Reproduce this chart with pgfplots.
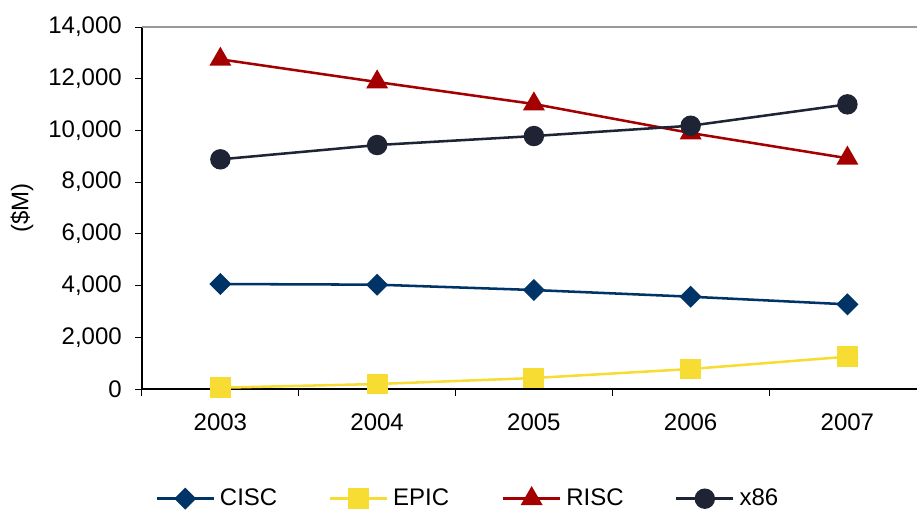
\documentclass[border=0pt]{standalone}
\usepackage{fontspec}
\setmainfont{Liberation Sans}
\usepackage{pgfplots}
\pgfplotsset{compat=1.18}
\definecolor{cisc}{RGB}{0,51,102}
\definecolor{epic}{RGB}{247,220,52}
\definecolor{risc}{RGB}{165,0,0}
\definecolor{xes}{RGB}{30,36,52}
\newcommand{\legbox}[1]{\makebox[81.5pt][l]{#1}}
\begin{document}
\fontsize{18}{22}\selectfont
\begin{tikzpicture}
\useasboundingbox (-106.5pt,-92.25pt) rectangle (581.25pt,291.75pt);
\begin{axis}[
  at={(0,0)}, anchor=south west, scale only axis,
  width=581.25pt, height=271.5pt,
  xmin=-0.5, xmax=4.444, ymin=0, ymax=14000,
  clip=false,
  axis x line*=bottom, axis y line*=left,
  axis line style={black, line width=1pt, -},
  tick align=outside, major tick length=5.25pt,
  tick style={black, line width=0.75pt},
  ytick={0,2000,...,14000},
  scaled y ticks=false,
  /pgf/number format/1000 sep={,},
  /pgf/number format/assume math mode=true,
  yticklabel style={inner sep=0pt, xshift=-9.75pt},
  xtick={-0.5,0.5,1.5,2.5,3.5}, xticklabels={},
  extra x ticks={0,1,2,3,4},
  extra x tick labels={2003,2004,2005,2006,2007},
  extra x tick style={major tick length=0pt, xticklabel style={inner sep=0pt, yshift=-18pt}},
  ylabel={(\$M)},
  ylabel style={at={(axis description cs:-0.155,0.5)}, anchor=center},
  legend columns=4,
  legend style={at={(axis description cs:0.017,-0.303)}, anchor=west, draw=none, fill=none,
    inner sep=0pt, nodes={inner sep=0pt},
    /tikz/every odd column/.append style={column sep=3.75pt},
    /tikz/every even column/.append style={column sep=0pt}},
  legend image code/.code={\draw[mark repeat=2,mark phase=2,#1] plot coordinates {(0pt,0pt) (21.4pt,0pt) (42.75pt,0pt)};},
]
\draw[gray!80, line width=1pt] (rel axis cs:0,1) -- (rel axis cs:1,1);
\addplot[cisc, line width=1.9pt, mark=square*, mark size=4.9pt, mark options={rotate=45, solid}]
  coordinates {(0,4060) (1,4035) (2,3828) (3,3570) (4,3274)};
\addlegendentry{\legbox{CISC}}
\addplot[epic, line width=1.9pt, mark=square*, mark size=6.9pt, mark options={solid}]
  coordinates {(0,50) (1,193) (2,425) (3,773) (4,1250)};
\addlegendentry{\legbox{EPIC}}
\addplot[risc, line width=1.9pt, mark=triangle*, mark size=7.6pt, mark options={solid}]
  coordinates {(0,12750) (1,11872) (2,11022) (3,9900) (4,8925)};
\addlegendentry{\legbox{RISC}}
\addplot[xes, line width=1.9pt, mark=*, mark size=6.7pt, mark options={solid}]
  coordinates {(0,8882) (1,9435) (2,9783) (3,10182) (4,11009)};
\addlegendentry{\legbox{x86}}
\end{axis}
\end{tikzpicture}
\end{document}
